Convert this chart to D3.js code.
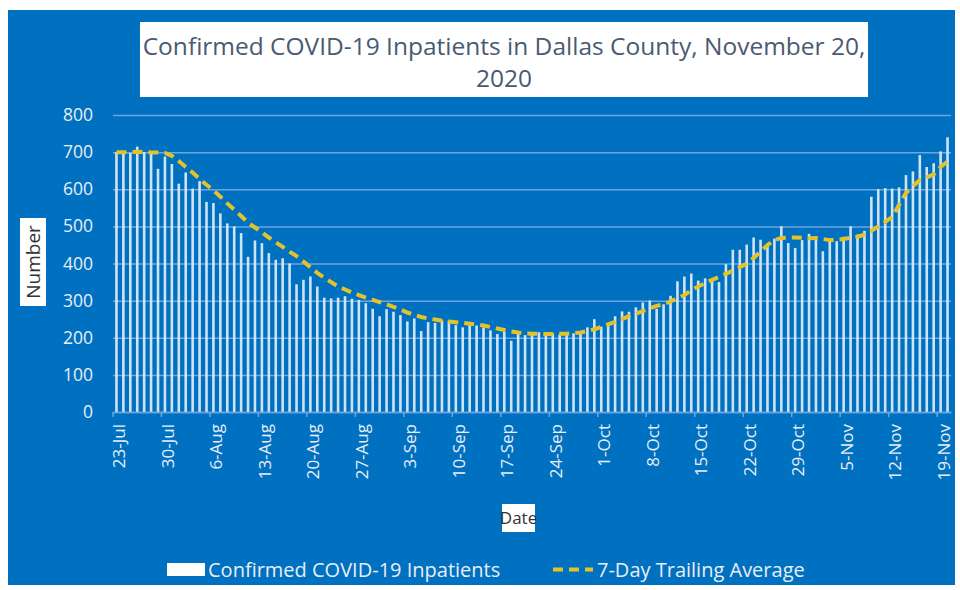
<!DOCTYPE html>
<html>
<head>
<meta charset="utf-8">
<script src="https://cdn.jsdelivr.net/npm/d3@7"></script>
<style>
  body { margin: 0; background: #ffffff; }
  svg { display: block; font-family: "Open Sans", sans-serif; }
</style>
</head>
<body>
<svg id="chart" width="960" height="590"></svg>
<script>
// DATA ------------------------------------------------------------------------

// one entry per day, 23 Jul 2020 .. 20 Nov 2020
var days = d3.timeDay.range(new Date(2020, 6, 23), new Date(2020, 10, 21));

// confirmed COVID-19 inpatients (bars)
var inpatients = [
    700, 702, 698, 715, 700, 695, 655, 688, 668, 615, 645, 602, 622, 566,
    563, 535, 508, 500, 482, 418, 462, 455, 428, 410, 414, 400, 344, 356,
    365, 338, 308, 306, 308, 312, 305, 302, 293, 278, 258, 277, 270, 261,
    244, 252, 218, 242, 240, 247, 246, 234, 228, 240, 233, 228, 220, 210,
    216, 192, 210, 207, 208, 215, 210, 212, 209, 213, 212, 210, 228, 250,
    230, 240, 258, 271, 270, 282, 295, 300, 278, 290, 313, 352, 365, 373,
    354, 360, 356, 350, 398, 437, 437, 451, 470, 464, 452, 467, 500, 455,
    442, 463, 480, 464, 433, 463, 460, 472, 500, 478, 488, 580, 600, 603,
    602, 605, 638, 648, 692, 660, 670, 702, 740
];

// 7-day trailing average (dashed line)
var trailingAvg = [
    700, 700, 700, 701, 700, 699, 699, 698, 690, 676, 660, 645, 628, 612,
    597, 580, 562, 545, 528, 510, 497, 484, 470, 457, 445, 432, 420, 405,
    390, 375, 362, 350, 338, 330, 322, 315, 308, 302, 296, 290, 283, 276,
    268, 262, 256, 252, 249, 246, 244, 242, 240, 238, 236, 233, 229, 225,
    221, 217, 214, 212, 211, 211, 210, 210, 211, 211, 212, 214, 218, 223,
    229, 236, 243, 250, 258, 265, 272, 279, 286, 290, 298, 306, 315, 328,
    338, 347, 356, 364, 372, 381, 390, 400, 415, 432, 450, 463, 469, 470,
    470, 469, 468, 469, 466, 463, 464, 466, 469, 472, 478, 488, 500, 512,
    525, 558, 590, 608, 625, 632, 640, 660, 675
];

var yTicks = [0, 100, 200, 300, 400, 500, 600, 700, 800];
var fmtDay = d3.timeFormat("%-d-%b");
var tickLabels = ["23-Jul", "30-Jul", "6-Aug", "13-Aug", "20-Aug", "27-Aug",
    "3-Sep", "10-Sep", "17-Sep", "24-Sep", "1-Oct", "8-Oct", "15-Oct",
    "22-Oct", "29-Oct", "5-Nov", "12-Nov", "19-Nov"];

var titleLines = ["Confirmed COVID-19 Inpatients in Dallas County, November 20,", "2020"];


// SETUP -----------------------------------------------------------------------

var svg = d3.select("#chart");
var blue = "rgb(0,112,192)";
var gridColor = "rgb(110,165,222)";
var avgColor = "#E3C22A";
var labelColor = "#e8eef6";

svg.append("rect")
    .attr("x", 8).attr("y", 10)
    .attr("width", 947).attr("height", 575)
    .attr("fill", blue);

var x = d3.scaleBand()
    .domain(days.map(fmtDay))
    .range([113, 951])
    .paddingInner(0);

var y = d3.scaleLinear()
    .domain([0, 800])
    .range([412, 115]);


// GRID + Y AXIS ---------------------------------------------------------------

var yAxis = svg.append("g")
    .attr("transform", "translate(113,0)")
    .call(d3.axisLeft(y).tickValues(yTicks).tickSize(-838).tickPadding(20));
yAxis.select(".domain").remove();
yAxis.selectAll("line").attr("stroke", gridColor).attr("stroke-width", 1.5);
yAxis.selectAll("text")
    .attr("fill", labelColor)
    .style("font-size", "17.5px")
    .style("font-family", "'Open Sans', sans-serif");


// BARS ------------------------------------------------------------------------

var barW = 2.6;
svg.append("g").selectAll("rect")
    .data(inpatients)
    .enter().append("rect")
    .attr("x", function(d, i) { return x(fmtDay(days[i])) + x.bandwidth() / 2 - barW / 2; })
    .attr("y", function(d) { return y(d); })
    .attr("width", barW)
    .attr("height", function(d) { return y(0) - y(d); })
    .attr("fill", "#e4effa")
    .attr("opacity", 0.9);


// X AXIS ----------------------------------------------------------------------

var xAxis = svg.append("g")
    .attr("transform", "translate(0," + y(0) + ")")
    .call(d3.axisBottom(x)
        .tickValues(tickLabels)
        .tickSize(0)
        .tickFormat(function(d) { return d; }));
xAxis.select(".domain").attr("stroke", gridColor).attr("stroke-width", 1.5);
xAxis.selectAll("text")
    .attr("fill", labelColor)
    .style("font-size", "17px")
    .style("font-family", "'Open Sans', sans-serif")
    .attr("text-anchor", "end")
    .attr("transform", "rotate(-90)")
    .attr("x", -12)
    .attr("y", 3)
    .attr("dy", "0.35em");

// major tick marks sit on the left edge of each labelled day
svg.append("g").selectAll("line")
    .data(tickLabels)
    .enter().append("line")
    .attr("x1", function(d) { return x(d); })
    .attr("x2", function(d) { return x(d); })
    .attr("y1", y(0))
    .attr("y2", y(0) + 5)
    .attr("stroke", gridColor)
    .attr("stroke-width", 1.5);


// TRAILING AVERAGE LINE -------------------------------------------------------

var line = d3.line()
    .x(function(d, i) { return x(fmtDay(days[i])) + x.bandwidth() / 2; })
    .y(function(d) { return y(d); });

svg.append("path")
    .datum(trailingAvg)
    .attr("d", line)
    .attr("fill", "none")
    .attr("stroke", avgColor)
    .attr("stroke-width", 4)
    .attr("stroke-dasharray", "10,6");


// TITLE + AXIS TITLES ---------------------------------------------------------

svg.append("rect")
    .attr("x", 140).attr("y", 22)
    .attr("width", 728).attr("height", 75)
    .attr("fill", "#ffffff");

svg.append("g").selectAll("text")
    .data(titleLines)
    .enter().append("text")
    .attr("x", 504)
    .attr("y", function(d, i) { return 46 + i * 32; })
    .attr("dy", "0.35em")
    .attr("text-anchor", "middle")
    .attr("fill", "#4a5a72")
    .style("font-size", "24.5px")
    .text(function(d) { return d; });

svg.append("rect")
    .attr("x", 20).attr("y", 218)
    .attr("width", 26).attr("height", 88)
    .attr("fill", "#ffffff");
svg.append("text")
    .attr("transform", "translate(33,262) rotate(-90)")
    .attr("dy", "0.35em")
    .attr("text-anchor", "middle")
    .attr("fill", "#333333")
    .style("font-size", "19px")
    .text("Number");

svg.append("rect")
    .attr("x", 502).attr("y", 504)
    .attr("width", 33).attr("height", 28)
    .attr("fill", "#ffffff");
svg.append("text")
    .attr("x", 518.5).attr("y", 518)
    .attr("dy", "0.35em")
    .attr("text-anchor", "middle")
    .attr("fill", "#333333")
    .style("font-size", "17px")
    .text("Date");


// LEGEND ----------------------------------------------------------------------

var legend = svg.append("g");
legend.append("rect")
    .attr("x", 167).attr("y", 563)
    .attr("width", 38).attr("height", 13)
    .attr("fill", "#ffffff");
legend.append("text")
    .attr("x", 208).attr("y", 569.5)
    .attr("dy", "0.35em")
    .attr("fill", labelColor)
    .style("font-size", "20px")
    .text("Confirmed COVID-19 Inpatients");
legend.append("line")
    .attr("x1", 553).attr("x2", 593)
    .attr("y1", 569.5).attr("y2", 569.5)
    .attr("stroke", avgColor)
    .attr("stroke-width", 4)
    .attr("stroke-dasharray", "10,6");
legend.append("text")
    .attr("x", 597).attr("y", 569.5)
    .attr("dy", "0.35em")
    .attr("fill", labelColor)
    .style("font-size", "20px")
    .text("7-Day Trailing Average");
</script>
</body>
</html>
